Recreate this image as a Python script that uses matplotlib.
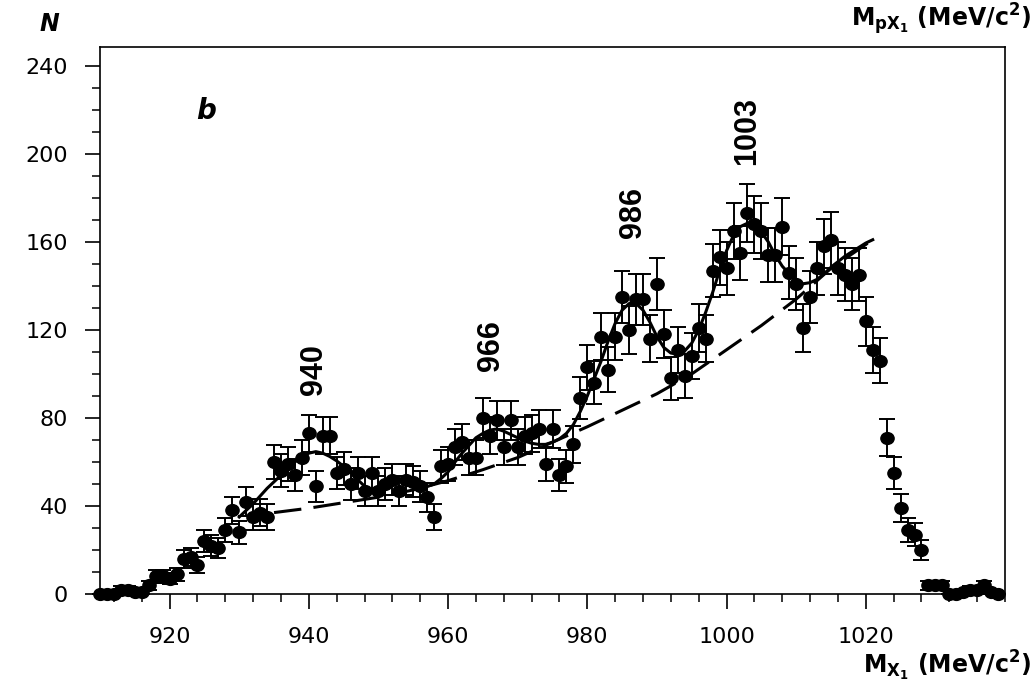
import numpy as np
import matplotlib
matplotlib.use("Agg")
import matplotlib.pyplot as plt
from matplotlib.ticker import MultipleLocator, FixedLocator
from matplotlib.markers import MarkerStyle
from matplotlib.transforms import Affine2D

plt.rcParams['font.family'] = ['DejaVu Sans']
plt.rcParams['mathtext.fontset'] = 'dejavusans'
plt.rcParams['mathtext.default'] = 'bf'

# event counts per 1 MeV bin, 910 ... 1039
mass = np.arange(910, 1040)
counts = [0, 0, 0, 2, 2, 1, 1, 4, 8, 8,
          7, 9, 16, 17, 13, 24, 22, 21, 29, 38,
          28, 42, 35, 37, 35, 60, 56, 59, 54, 62,
          73, 49, 72, 72, 55, 57, 50, 55, 47, 55,
          47, 50, 52, 47, 52, 51, 49, 44, 35, 58,
          59, 67, 69, 62, 62, 80, 72, 79, 67, 79,
          67, 72, 73, 75, 59, 75, 54, 58, 68, 89,
          103, 96, 117, 102, 117, 135, 120, 134, 134, 116,
          141, 118, 98, 111, 99, 108, 121, 116, 147, 153,
          148, 165, 155, 173, 168, 165, 154, 154, 167, 146,
          141, 121, 135, 148, 158, 161, 148, 145, 141, 145,
          124, 111, 106, 71, 55, 39, 29, 27, 20, 4,
          4, 4, 0, 0, 1, 2, 2, 4, 1, 0]

# fitted curve
fit_mass = np.arange(930, 1022)
fit_vals = [35, 38, 41, 44.5, 48, 51, 54, 57, 60, 62.5,
            64, 64.7, 64, 62.5, 60.5, 58, 55.5, 52, 49, 47.5,
            47, 48.5, 51, 52, 51.5, 50, 49, 48.8, 50, 52.5,
            55.5, 60, 64, 67.5, 71, 73, 74.5, 75, 74, 72.5,
            71, 69.5, 68.5, 68, 68, 69, 70.5, 73, 77, 83,
            90, 98, 106, 115, 123, 129, 132, 132, 129, 123.5,
            117, 112, 109.5, 109, 110.5, 114, 120, 128, 137, 147,
            156, 163, 167, 168.5, 167.5, 164.5, 160, 154, 149, 145.5,
            142.5, 141, 141.5, 143, 145.5, 148.5, 151, 153.5, 155.5, 157.5,
            159.5, 161]

# background curve
bkg_mass = [935, 940, 945, 950, 955, 960, 965, 970, 975, 980,
            985, 990, 995, 1000, 1005, 1010, 1015, 1021]
bkg_vals = [37, 39, 41.5, 44, 47.3, 51.5, 56.5, 62, 69, 76,
            83.5, 91, 100, 111, 122, 134, 148, 161]

x_ticks = [920, 940, 960, 980, 1000, 1020]
y_ticks = [0, 40, 80, 120, 160, 200, 240]

peak_labels = ["940", "966", "986", "1003"]
peak_x = [940.8, 966.2, 986.6, 1002.9]
peak_y = [102, 113, 173.5, 210.5]

fig = plt.figure(figsize=(10.36, 6.98), dpi=100)
ax = fig.add_axes([100 / 1036, 1 - 594 / 698, 905 / 1036, 547 / 698])

marker = MarkerStyle('o', transform=Affine2D().scale(1.12, 1.0))
cont = ax.errorbar(mass, counts, yerr=np.sqrt(counts), fmt='none',
                   ecolor='black', elinewidth=1.4, capsize=5.5, capthick=1.4)
for art in cont.get_children():
    art.set_clip_on(False)
ax.plot(mass, counts, linestyle='none', marker=marker, markersize=8.5,
        color='black', clip_on=False, zorder=3)

ax.plot(fit_mass, fit_vals, color='black', lw=2.2, zorder=4)
ax.plot(bkg_mass, bkg_vals, color='black', lw=2.2, dashes=(9, 4), zorder=4)

for lab, px, py in zip(peak_labels, peak_x, peak_y):
    ax.text(px, py, lab, rotation=90, ha='center', va='center',
            fontsize=22, fontweight='bold',
            family=['Liberation Sans Narrow', 'Liberation Sans'])

ax.text(925.2, 219.5, "b", ha='center', va='center', fontsize=20,
        fontweight='bold', fontstyle='italic')

ax.set_xlim(910, 1040)
ax.set_ylim(0, 248.6)
ax.xaxis.set_major_locator(FixedLocator(x_ticks))
ax.xaxis.set_minor_locator(MultipleLocator(4))
ax.yaxis.set_major_locator(FixedLocator(y_ticks))
ax.yaxis.set_minor_locator(MultipleLocator(10))
ax.tick_params(which='major', direction='out', length=11, width=1.2,
               labelsize=16, top=False, right=False)
ax.tick_params(which='minor', direction='out', length=5.5, width=1.1,
               top=False, right=False)
ax.tick_params(axis='x', which='major', pad=13)
ax.tick_params(axis='y', which='major', pad=12)
for sp in ax.spines.values():
    sp.set_linewidth(1.2)

fig.text(0.048, 0.966, "N", ha='center', va='center', fontsize=17,
         fontweight='bold', fontstyle='italic')
fig.text(0.996, 1 - 673 / 698, r"M$_{X_1}$ (MeV/c$^2$)", ha='right',
         va='baseline', fontsize=17, fontweight='bold')
# top label sits right at the upper edge (partly clipped in the original)
fig.text(0.996, 0.999, r"M$_{pX_1}$ (MeV/c$^2$)", ha='right',
         va='top', fontsize=17, fontweight='bold')

fig.savefig("out.png", dpi=100)
